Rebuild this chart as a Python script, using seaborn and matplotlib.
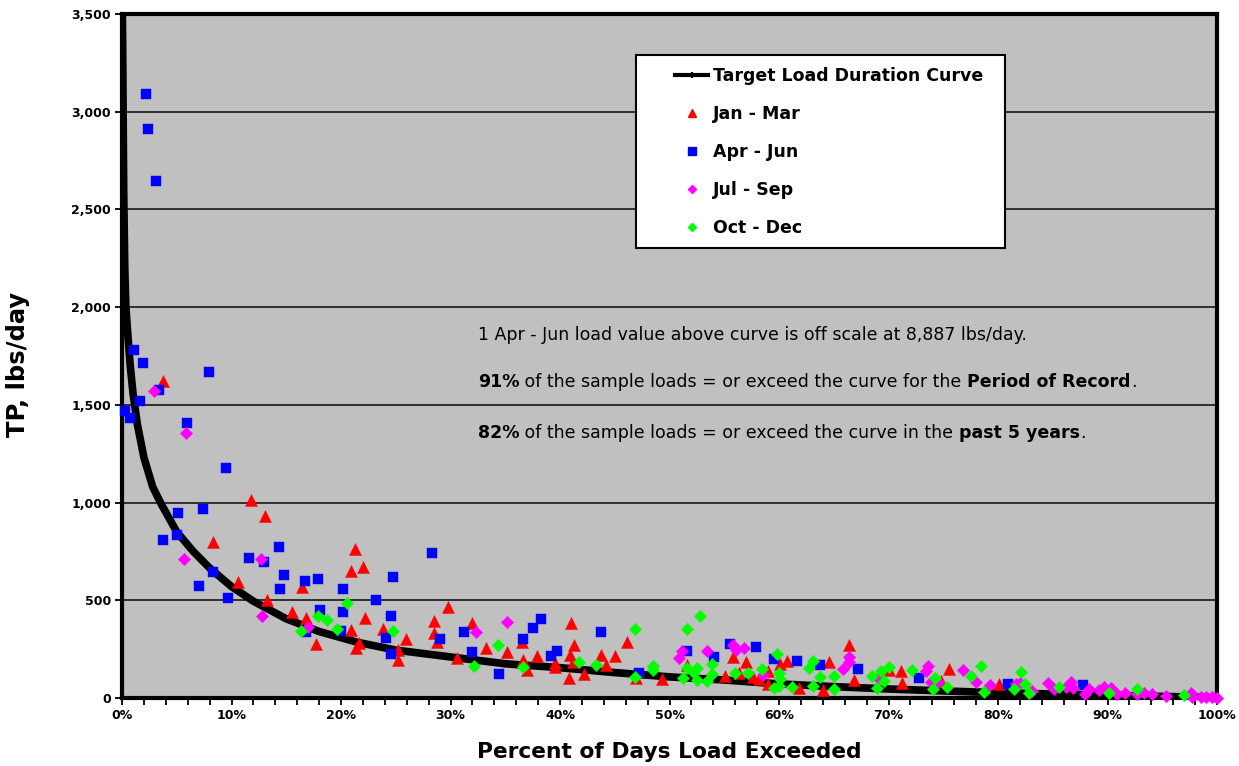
import matplotlib
matplotlib.use("Agg")
import matplotlib.pyplot as plt
from matplotlib.lines import Line2D
from matplotlib.patches import Rectangle
from matplotlib.ticker import FuncFormatter, MultipleLocator
import seaborn as sns
import pandas as pd

# Target load duration curve (percent of days exceeded, TP lbs/day)
curve_pct = [0.0, 0.05, 0.1, 0.15, 0.25, 0.35, 0.5, 0.75, 1.0, 1.4, 2.0, 2.8, 3.6,
             5.0, 6.5, 8.0, 10.0, 12.0, 15.0, 18.0, 21.5, 25.0, 30.0, 35.0, 40.0,
             45.0, 50.0, 55.0, 60.0, 65.0, 70.0, 75.0, 80.0, 85.0, 90.0, 95.0, 100.0]
curve_load = [3600, 3400, 3000, 2600, 2200, 2000, 1880, 1700, 1560, 1400, 1230, 1080, 990,
              850, 750, 665, 570, 495, 405, 340, 285, 245, 210, 175, 155,
              130, 108, 92, 72, 58, 46, 36, 27, 20, 14, 8, 2]

# Sample loads by season
jan_mar_pct = [3.7, 11.8, 13.1, 8.3, 10.6, 16.4, 13.2, 15.5, 16.8, 17.7, 21.3, 20.9, 22.0,
               22.2, 20.9, 21.6, 21.4, 23.8, 25.9, 25.2, 25.2, 29.8, 28.5, 28.5, 28.8,
               32.0, 33.2, 35.2, 30.6, 36.5, 36.6, 37.0, 37.9, 39.5, 39.5, 41.0, 41.3,
               40.9, 41.2, 40.8, 42.2, 43.7, 44.2, 45.0, 46.1, 46.9, 49.3, 51.6, 55.1,
               55.8, 56.3, 57.0, 57.6, 58.2, 59.0, 59.0, 60.1, 60.7, 61.8, 64.6, 64.0,
               66.4, 66.8, 70.0, 71.1, 71.2, 74.8, 75.5, 80.1]
jan_mar_load = [1620, 1015, 933, 800, 595, 569, 503, 441, 410, 277, 764, 651, 672,
                410, 349, 282, 256, 354, 303, 246, 195, 467, 395, 333, 287,
                385, 256, 236, 205, 287, 195, 144, 215, 179, 159, 385, 272,
                221, 185, 103, 123, 221, 169, 215, 287, 103, 97, 169, 113,
                210, 128, 185, 108, 97, 138, 72, 174, 190, 51, 185, 41,
                272, 92, 144, 138, 77, 87, 149, 72]

apr_jun_pct = [2.2, 2.4, 3.1, 0.3, 0.7, 1.1, 1.9, 1.6, 3.4, 7.9, 5.9, 9.5, 3.7, 5.0,
               5.1, 7.4, 8.3, 7.0, 9.7, 14.3, 11.6, 13.0, 14.8, 14.4, 16.7, 17.9,
               20.2, 18.1, 20.2, 16.8, 20.0, 23.2, 24.7, 24.6, 24.1, 24.6, 28.3,
               29.0, 31.2, 32.0, 34.4, 36.6, 37.5, 38.3, 39.2, 39.7, 43.7, 47.2,
               51.6, 54.1, 55.5, 57.9, 59.5, 61.6, 63.7, 67.2, 72.8, 80.9, 87.8]
apr_jun_load = [3092, 2913, 2646, 1467, 1431, 1779, 1713, 1518, 1574, 1667, 1405, 1179, 810, 836,
                949, 969, 646, 574, 513, 774, 718, 697, 631, 559, 600, 610,
                559, 451, 441, 338, 344, 503, 620, 420, 308, 226, 744,
                303, 338, 236, 123, 303, 359, 405, 215, 241, 338, 128,
                241, 210, 277, 262, 200, 190, 169, 149, 103, 72, 67]

jul_sep_pct = [2.9, 5.8, 5.7, 12.7, 12.8, 17.0, 32.3, 35.2, 51.1, 50.9, 53.4, 55.8, 56.1,
               56.8, 58.5, 65.8, 66.4, 66.4, 69.0, 73.4, 73.6, 73.9, 74.5, 76.8, 78.0,
               79.3, 81.6, 82.0, 83.1, 84.6, 85.1, 86.2, 86.7, 86.8, 87.9, 88.3, 89.2,
               89.7, 90.3, 90.9, 91.6, 92.7, 93.3, 94.1, 95.3, 97.6, 97.7, 98.5, 99.0,
               99.5, 100.0]
jul_sep_load = [1569, 1354, 713, 713, 420, 364, 338, 390, 241, 205, 241, 272, 246,
                256, 118, 149, 210, 185, 103, 138, 164, 82, 82, 144, 82,
                67, 72, 77, 36, 77, 46, 56, 82, 51, 21, 46, 41,
                56, 51, 21, 26, 21, 26, 21, 10, 26, 5, 5, 5,
                5, 0]

oct_dec_pct = [20.5, 17.9, 18.7, 16.3, 19.6, 24.7, 32.1, 34.3, 36.6, 41.7, 43.3, 46.8, 46.8,
               48.5, 48.5, 51.2, 51.6, 51.6, 52.1, 52.5, 52.8, 52.5, 53.4, 53.9, 53.9,
               56.0, 57.2, 58.4, 59.8, 60.0, 60.1, 59.5, 60.0, 61.2, 62.7, 63.1, 63.7,
               63.1, 65.0, 65.0, 68.5, 68.9, 69.3, 70.0, 69.6, 72.1, 74.2, 74.1, 75.3,
               77.5, 78.4, 78.7, 81.5, 82.1, 82.5, 82.8, 85.6, 90.1, 92.7, 97.0]
oct_dec_load = [487, 420, 400, 344, 354, 344, 164, 272, 159, 185, 169, 354, 108,
                164, 144, 103, 354, 154, 133, 92, 420, 154, 87, 174, 123,
                128, 128, 149, 226, 128, 97, 51, 62, 56, 154, 190, 108,
                62, 113, 46, 113, 51, 138, 159, 87, 144, 103, 46, 56,
                113, 164, 31, 46, 133, 72, 26, 56, 26, 46, 15]

season_labels = ["Jan - Mar", "Apr - Jun", "Jul - Sep", "Oct - Dec"]
y_ticks = [0, 500, 1000, 1500, 2000, 2500, 3000, 3500]
x_ticks = [0, 10, 20, 30, 40, 50, 60, 70, 80, 90, 100]

seasons = [
    (jan_mar_pct, jan_mar_load, "#FF0000", "^", 75),
    (apr_jun_pct, apr_jun_load, "#0000FF", "s", 55),
    (jul_sep_pct, jul_sep_load, "#FF00FF", "D", 40),
    (oct_dec_pct, oct_dec_load, "#00FF00", "D", 40),
]

fig = plt.figure(figsize=(12.39, 7.66), dpi=100)
ax = fig.add_axes([0.0985, 0.0888, 0.8838, 0.8929])
ax.set_facecolor("#C0C0C0")

ax.set_xlim(0, 100)
ax.set_ylim(0, 3500)
ax.set_yticks(y_ticks)
for y in y_ticks[1:-1]:
    ax.axhline(y, color="#303030", lw=1.4, zorder=1)

curve_df = pd.DataFrame({"pct": curve_pct, "load": curve_load})
sns.lineplot(data=curve_df, x="pct", y="load", ax=ax, color="black", lw=5.5,
             sort=False, zorder=3, solid_capstyle="butt")

for (pct, load, color, marker, size), label in zip(seasons, season_labels):
    df = pd.DataFrame({"pct": pct, "load": load})
    sns.scatterplot(data=df, x="pct", y="load", ax=ax, color=color, marker=marker,
                    s=size, edgecolor=color, linewidth=0.3, zorder=4, clip_on=False)

# axes, ticks and labels
ax.set_xticks(x_ticks)
ax.xaxis.set_minor_locator(MultipleLocator(2))
ax.xaxis.set_major_formatter(FuncFormatter(lambda v, p: f"{int(v)}%"))
ax.yaxis.set_major_formatter(FuncFormatter(lambda v, p: f"{int(v):,}"))
ax.tick_params(axis="both", which="major", direction="out", length=5, width=1.3,
               labelsize=9, color="black", pad=3)
ax.tick_params(axis="x", which="minor", direction="out", length=5, width=1.3)
for lab in ax.get_xticklabels() + ax.get_yticklabels():
    lab.set_fontweight("bold")
    lab.set_family("DejaVu Sans")
for side in ["left", "bottom", "right", "top"]:
    ax.spines[side].set_color("black")
    ax.spines[side].set_linewidth(3)

ax.set_xlabel("Percent of Days Load Exceeded", fontsize=15.7, fontweight="bold",
              family="DejaVu Sans", labelpad=14)
ax.set_ylabel("TP, lbs/day", fontsize=17.5, fontweight="bold", family="DejaVu Sans")
ax.yaxis.set_label_coords(-0.084, 0.487)

# legend: white box with handles inset from its left edge
ax.add_patch(Rectangle((0.469, 0.658), 0.337, 0.282, transform=ax.transAxes,
                       facecolor="white", edgecolor="black", lw=1.5, zorder=5))
handles = [Line2D([], [], color="black", lw=3, marker="+", ms=5, mew=1.5)]
for (pct, load, color, marker, size) in seasons:
    handles.append(Line2D([], [], ls="none", marker=marker, color=color,
                          ms=6 if marker != "D" else 4.5))
leg = ax.legend(handles, ["Target Load Duration Curve"] + season_labels,
                loc="upper left", bbox_to_anchor=(0.505, 0.9225),
                frameon=False, borderpad=0, labelspacing=1.15,
                handlelength=1.9, handletextpad=0.3, borderaxespad=0,
                prop={"family": "DejaVu Sans", "weight": "bold", "size": 12.5})
leg.set_zorder(6)

# notes with mixed-weight runs
notes = [
    (1860, [("1 Apr - Jun load value above curve is off scale at 8,887 lbs/day.", "normal")]),
    (1615, [("91%", "bold"), (" of the sample loads = or exceed the curve for the ", "normal"),
            ("Period of Record", "bold"), (".", "normal")]),
    (1355, [("82%", "bold"), (" of the sample loads = or exceed the curve in the ", "normal"),
            ("past 5 years", "bold"), (".", "normal")]),
]
for yv, runs in notes:
    prev = None
    for txt, wt in runs:
        kw = dict(fontsize=12.5, family="DejaVu Sans", fontweight=wt,
                  va="center", ha="left", color="black", zorder=5)
        if prev is None:
            prev = ax.annotate(txt, xy=(32.5, yv), xycoords="data", **kw)
        else:
            prev = ax.annotate(txt, xy=(1, 0.5), xycoords=prev, **kw)

fig.savefig("out.png", dpi=100, facecolor="white")
